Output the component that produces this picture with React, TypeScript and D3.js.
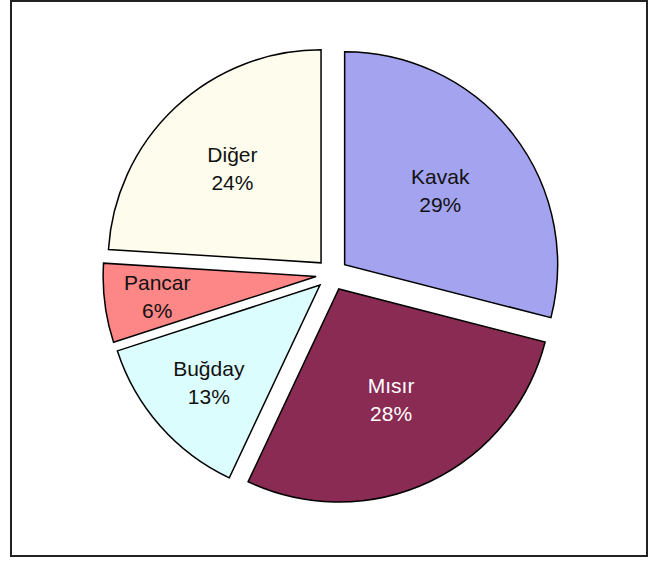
import React from "react";
import * as d3 from "d3";

const categories = ["Kavak", "Mısır", "Buğday", "Pancar", "Diğer"];
const values = [29, 28, 13, 6, 24];
const colors = ["#A4A3EF", "#8A2B54", "#DCFDFD", "#FD8686", "#FEFDED"];
const textColors = ["#111", "#fff", "#111", "#111", "#111"];

const W = 648;
const H = 561;
const cx = 332;
const cy = 274.5;
const R = 213;
const explode = 16;

export default function App() {
  const total = d3.sum(values);
  const pie = d3
    .pie<number>()
    .sort(null)
    .value((d) => d)
    .startAngle(0)
    .endAngle(2 * Math.PI);
  const arcs = pie(values);
  const arc = d3.arc<d3.PieArcDatum<number>>().innerRadius(0).outerRadius(R);

  return (
    <svg
      width={W}
      height={H}
      style={{ position: "absolute", left: 0, top: 0, background: "#fff" }}
      fontFamily="'Liberation Sans', Arial, Helvetica, sans-serif"
    >
      <rect x={11} y={1} width={636} height={555} fill="#fff" stroke="#222" strokeWidth={2} />
      {arcs.map((a, i) => {
        const mid = (a.startAngle + a.endAngle) / 2;
        const dx = Math.sin(mid);
        const dy = -Math.cos(mid);
        const ox = cx + explode * dx;
        const oy = cy + explode * dy;
        const frac = values[i] / total;
        const lr = R * (0.8 - 0.8 * frac);
        const lx = ox + lr * dx;
        const ly = oy + lr * dy;
        const pct = Math.round(frac * 100) + "%";
        return (
          <g key={categories[i]} transform={`translate(${ox},${oy})`}>
            <path d={arc(a) || ""} fill={colors[i]} stroke="#000" strokeWidth={1.5} strokeLinejoin="miter" />
            <text
              x={lx - ox}
              y={ly - oy - 14}
              dy="0.35em"
              textAnchor="middle"
              fontSize={21}
              fill={textColors[i]}
            >
              {categories[i]}
            </text>
            <text
              x={lx - ox}
              y={ly - oy + 14}
              dy="0.35em"
              textAnchor="middle"
              fontSize={21}
              fill={textColors[i]}
            >
              {pct}
            </text>
          </g>
        );
      })}
    </svg>
  );
}
